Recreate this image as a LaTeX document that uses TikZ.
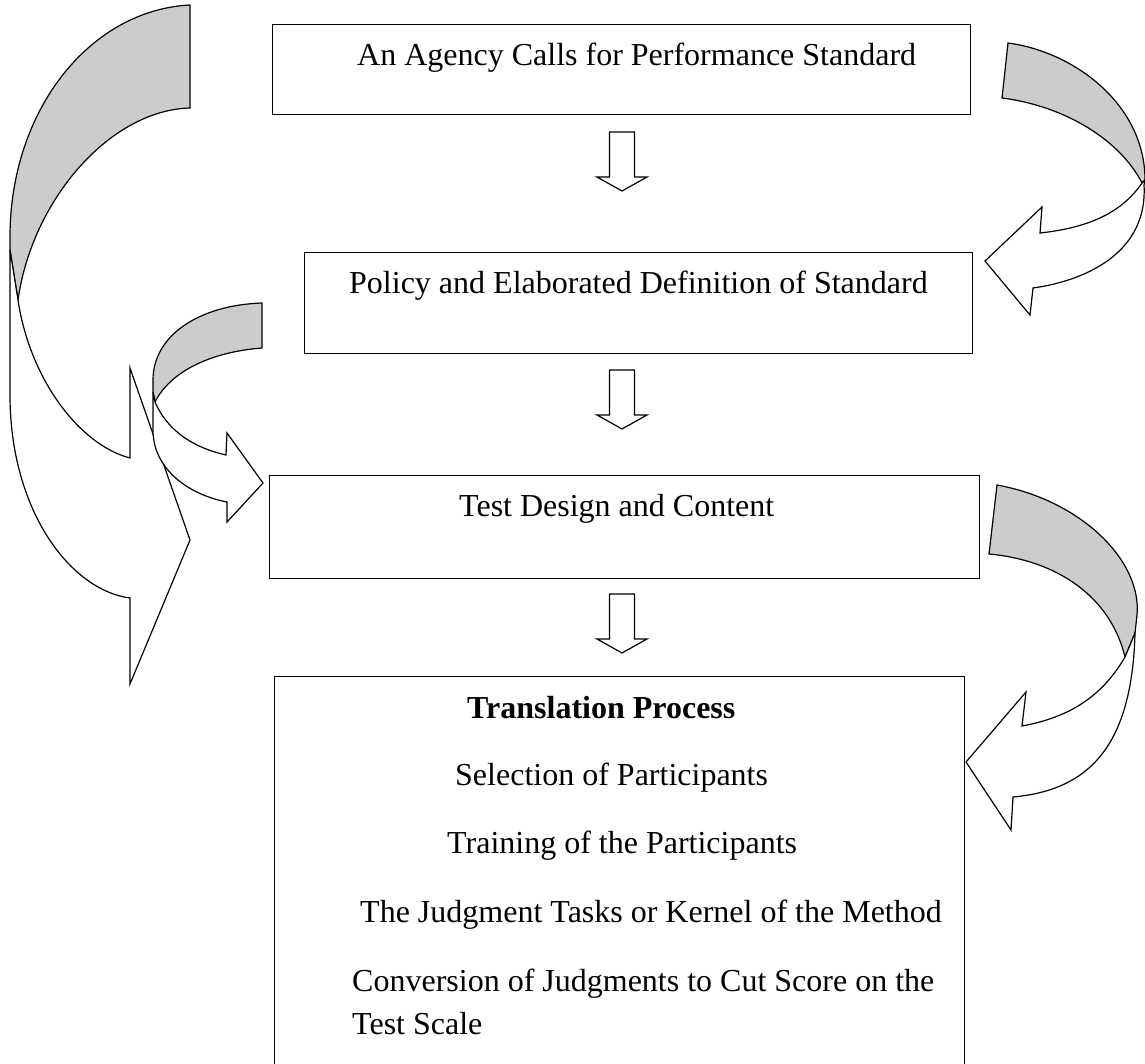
\documentclass[tikz,border=0pt]{standalone}
\usepackage{fontspec}
\setmainfont{Liberation Serif}
\begin{document}
\begin{tikzpicture}[x=1pt,y=-1pt,
  box/.style={draw, line width=1.4pt, inner sep=0pt, anchor=north west},
  txt/.style={anchor=base west, inner sep=0pt, font=\fontsize{32}{38}\selectfont},
  band/.style={draw, line width=1.2pt, fill=black!20, line join=miter},
  face/.style={draw, line width=1.2pt, fill=white, line join=miter},
  blockdown/.pic={\draw[line width=1.2pt, fill=white] (-12.5,0) -- (12.5,0) -- (12.5,45) -- (25,45) -- (0,59) -- (-25,45) -- (-12.5,45) -- cycle;}
]
\useasboundingbox (0,0) rectangle (1145,1063);

% process boxes
\node[box, minimum width=698pt, minimum height=90pt]  (b1) at (272,24)  {};
\node[box, minimum width=668pt, minimum height=101pt] (b2) at (304,252) {};
\node[box, minimum width=710pt, minimum height=103pt] (b3) at (269,475) {};
\node[box, minimum width=690pt, minimum height=420pt] (b4) at (274,676) {};

% box texts
\node[txt] (t1) at (357,65)  {An Agency Calls for Performance Standard};
\node[txt] (t2) at (349,293) {Policy and Elaborated Definition of Standard};
\node[txt] (t3) at (459,516) {Test Design and Content};
\node[txt, font={\fontsize{32}{38}\selectfont\bfseries}] (t4) at (467,718) {Translation Process};
\node[txt] (t5) at (455,785) {Selection of Participants};
\node[txt] (t6) at (447,853) {Training of the Participants};
\node[txt] (t7) at (360,922) {The Judgment Tasks or Kernel of the Method};
\node[txt] (t8) at (352,991) {Conversion of Judgments to Cut Score on the};
\node[txt] (t9) at (352,1034) {Test Scale};

% straight block arrows between the boxes
\pic at (622,132) {blockdown};
\pic at (622,370) {blockdown};
\pic at (622,594) {blockdown};

% large curved arrow on the left (feedback into the test design)
\path[band] (190,5) .. controls (90,10) and (10,110) .. (10,237) -- (10,250) -- (18,300)
  .. controls (32,200) and (110,110) .. (190,108) -- cycle;
\path[face] (10,250) -- (18,300) .. controls (30,380) and (80,445) .. (130,458)
  -- (130,368) -- (190,540) -- (130,684) -- (130,598)
  .. controls (70,590) and (10,510) .. (10,395) -- cycle;

% small curved arrow on the left
\path[band] (262,303) .. controls (200,305) and (153,335) .. (153,380) -- (153,392) -- (155,402)
  .. controls (170,372) and (210,352) .. (262,348) -- cycle;
\path[face] (153,392) -- (155,402) .. controls (168,432) and (195,448) .. (226,455)
  -- (227,433) -- (263,483) -- (227,522) -- (227,502)
  .. controls (190,495) and (153,470) .. (153,430) -- cycle;

% upper curved arrow on the right
\path[band] (1008,43) .. controls (1075,52) and (1145,105) .. (1145,180) -- (1142,183)
  .. controls (1120,140) and (1065,106) .. (1002,98) -- cycle;
\path[face] (1145,180) -- (1142,183) .. controls (1120,215) and (1085,228) .. (1040,233)
  -- (1042,207) -- (985,261) -- (1030,315) -- (1033,288)
  .. controls (1090,280) and (1148,250) .. (1144,185) -- cycle;

% lower curved arrow on the right
\path[band] (997,485) .. controls (1080,500) and (1142,560) .. (1137,615) -- (1135,633) -- (1125,657)
  .. controls (1110,595) and (1055,560) .. (989,554) -- cycle;
\path[face] (1135,633) -- (1125,657) .. controls (1100,700) and (1065,718) .. (1022,726)
  -- (1026,692) -- (966,762) -- (1011,830) -- (1013,797)
  .. controls (1090,790) and (1132,745) .. (1135,633) -- cycle;
\end{tikzpicture}
\end{document}
